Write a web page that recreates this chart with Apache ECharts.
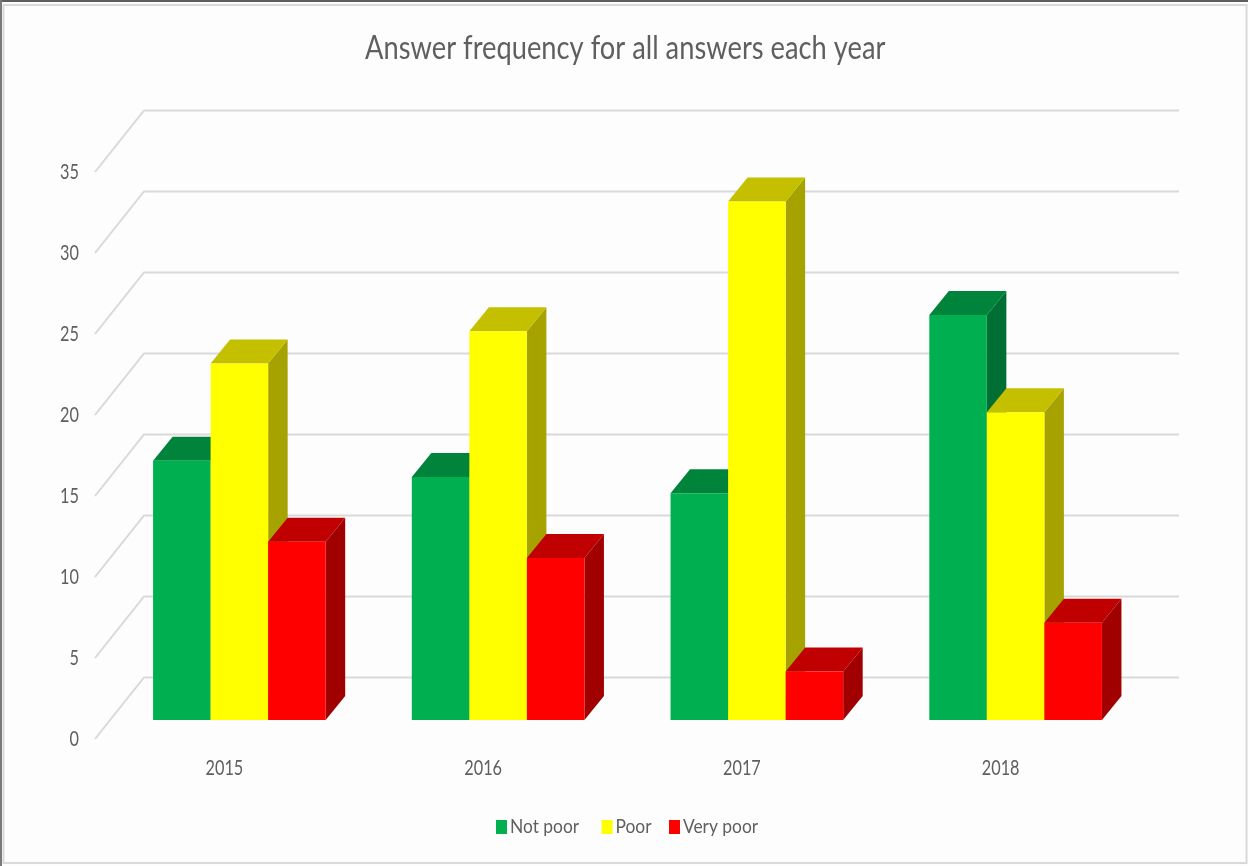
<!DOCTYPE html>
<html>
<head>
<meta charset="utf-8">
<style>html,body{margin:0;padding:0;background:#fdfdfd}#chart{width:1248px;height:866px}</style>
<script src="https://cdn.jsdelivr.net/npm/echarts@6/dist/echarts.min.js"></script>
</head>
<body>
<div id="chart"></div>
<script>
const years = ['2015', '2016', '2017', '2018'];
const seriesNames = ['Not poor', 'Poor', 'Very poor'];
const notPoor = [16, 15, 14, 25];
const poor = [22, 24, 32, 19];
const veryPoor = [11, 10, 3, 6];
const yTicks = [0, 5, 10, 15, 20, 25, 30, 35];
const titleText = 'Answer frequency for all answers each year';

const font = 'Lato, sans-serif';
const textColor = '#5f5f5f';

// Oblique projection offsets of the pseudo-3D box
const wall = { dx: 49, dy: 61.5 };      // front plane to back wall
const inset = { dx: 15, dy: 19 };       // front plane to bar front face
const depth = { dx: 19.5, dy: 24 };     // bar front face to bar back face
const barShare = 0.2224;                // bar width as a share of the category band

function boxRenderer(slot, colors) {
  return function (params, api) {
    const cat = api.value(0);
    const base = api.coord([cat, 0]);
    const top = api.coord([cat, api.value(1)]);
    const w = api.size([1, 0])[0] * barShare;
    const x0 = base[0] + inset.dx + (slot - 1.5) * w;
    const x1 = x0 + w;
    const yb = base[1] - inset.dy;
    const yt = top[1] - inset.dy;
    const d = depth;
    const poly = (points, fill) => ({
      type: 'polygon',
      shape: { points },
      style: { fill, stroke: null }
    });
    return {
      type: 'group',
      children: [
        poly([[x1, yb], [x1 + d.dx, yb - d.dy], [x1 + d.dx, yt - d.dy], [x1, yt]], colors.side),
        poly([[x0, yt], [x1, yt], [x1 + d.dx, yt - d.dy], [x0 + d.dx, yt - d.dy]], colors.top),
        poly([[x0, yb], [x1, yb], [x1, yt], [x0, yt]], colors.front)
      ]
    };
  };
}

function wallRenderer(params, api) {
  const sys = params.coordSys;
  const y = api.coord([0, api.value(0)])[1];
  return {
    type: 'polyline',
    shape: {
      points: [
        [sys.x, y],
        [sys.x + wall.dx, y - wall.dy],
        [sys.x + sys.width + wall.dx, y - wall.dy]
      ]
    },
    style: { fill: null, stroke: '#d9d9d9', lineWidth: 2 }
  };
}

function boxSeries(name, values, slot, colors) {
  return {
    type: 'custom',
    name,
    coordinateSystem: 'cartesian2d',
    clip: false,
    silent: true,
    z: 3 + slot,
    itemStyle: { color: colors.front },
    renderItem: boxRenderer(slot, colors),
    encode: { x: 0, y: 1 },
    data: values.map((v, i) => [i, v])
  };
}

const chart = echarts.init(document.getElementById('chart'), null, { renderer: 'canvas' });
chart.setOption({
  animation: false,
  backgroundColor: '#fdfdfd',
  title: {
    text: titleText,
    left: 365,
    top: 33,
    padding: 0,
    textStyle: { fontFamily: font, fontSize: 32, fontWeight: 'normal', color: textColor }
  },
  legend: {
    data: seriesNames,
    left: 496,
    top: 817,
    padding: 0,
    icon: 'rect',
    itemWidth: 11,
    itemHeight: 14,
    itemGap: 10,
    textStyle: { fontFamily: font, fontSize: 20, color: textColor }
  },
  grid: { left: 95, top: 172, width: 1035, height: 567 },
  xAxis: {
    type: 'category',
    data: years,
    axisLine: { show: false },
    axisTick: { show: false },
    splitLine: { show: false },
    axisLabel: { margin: 18, fontFamily: font, fontSize: 22, color: textColor }
  },
  yAxis: {
    type: 'value',
    min: 0,
    max: 35,
    interval: 5,
    axisLine: { show: false },
    axisTick: { show: false },
    splitLine: { show: false },
    axisLabel: { margin: 16, fontFamily: font, fontSize: 22, color: textColor }
  },
  graphic: [
    { type: 'rect', z: -10, silent: true, shape: { x: 3.5, y: 5, width: 1243, height: 858 },
      style: { fill: null, stroke: '#d9d9d9', lineWidth: 2 } },
    { type: 'rect', z: -9, silent: true, shape: { x: 0, y: 0, width: 1248, height: 2 }, style: { fill: '#5f5f5f' } },
    { type: 'rect', z: -9, silent: true, shape: { x: 0, y: 0, width: 2, height: 866 }, style: { fill: '#7a7a7a' } }
  ],
  series: [
    {
      type: 'custom',
      name: 'walls',
      coordinateSystem: 'cartesian2d',
      clip: false,
      silent: true,
      z: 1,
      renderItem: wallRenderer,
      encode: { y: 0 },
      data: yTicks.map(v => [v])
    },
    boxSeries('Not poor', notPoor, 0, { front: '#00b050', top: '#00843c', side: '#006f34' }),
    boxSeries('Poor', poor, 1, { front: '#ffff00', top: '#c4c000', side: '#a6a300' }),
    boxSeries('Very poor', veryPoor, 2, { front: '#ff0000', top: '#c00000', side: '#a00000' })
  ]
});

// No condensed face is installed, so squeeze the text horizontally about its anchor
function widthFactor(text) {
  if (text === titleText) return 0.853;
  if (seriesNames.includes(text)) return 0.87;
  return 0.74;
}
chart.getZr().storage.traverse(el => {
  if (el.style && typeof el.style.text === 'string' && el.style.text) {
    el.scaleX = widthFactor(el.style.text);
    el.markRedraw();
  }
});
</script>
</body>
</html>
